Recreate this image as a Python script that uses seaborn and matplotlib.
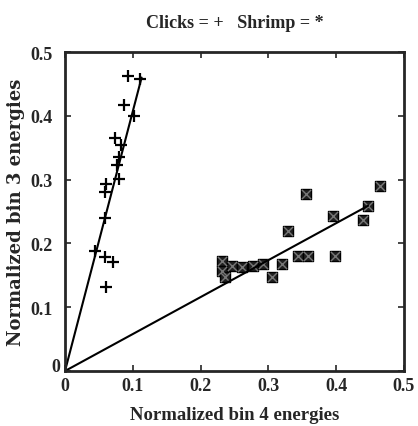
import numpy as np
import pandas as pd
import seaborn as sns
from matplotlib import pyplot as plt
from matplotlib import transforms

# clicks (+)
click_x = [0.093, 0.111, 0.087, 0.102, 0.074, 0.082, 0.080, 0.076, 0.060, 0.079,
           0.059, 0.059, 0.044, 0.059, 0.071, 0.060]
click_y = [0.463, 0.457, 0.417, 0.400, 0.366, 0.354, 0.335, 0.323, 0.293, 0.301,
           0.280, 0.240, 0.188, 0.179, 0.171, 0.131]

# shrimp (*)
shrimp_x = [0.465, 0.356, 0.447, 0.440, 0.395, 0.329, 0.344, 0.358, 0.398, 0.320,
            0.305, 0.231, 0.231, 0.246, 0.261, 0.277, 0.292, 0.236]
shrimp_y = [0.290, 0.277, 0.259, 0.236, 0.243, 0.220, 0.181, 0.181, 0.181, 0.168,
            0.147, 0.173, 0.157, 0.165, 0.163, 0.165, 0.168, 0.147]

# fitted lines through origin
click_line_x = [0.0, 0.113]
click_line_y = [0.0, 0.460]
shrimp_line_x = [0.0, 0.447]
shrimp_line_y = [0.0, 0.259]

ticks = [0, 0.1, 0.2, 0.3, 0.4, 0.5]
tick_labels = ["0", "0.1", "0.2", "0.3", "0.4", "0.5"]

df_click = pd.DataFrame({"x": click_x, "y": click_y})
df_shrimp = pd.DataFrame({"x": shrimp_x, "y": shrimp_y})

sns.set_style("ticks")
plt.rcParams['font.family'] = ['Liberation Serif', 'DejaVu Serif']
plt.rcParams['xtick.direction'] = 'in'
plt.rcParams['ytick.direction'] = 'in'

fig = plt.figure(figsize=(4.18, 4.27), dpi=100)
ax = fig.add_axes([0.1555, 0.1288, 0.811, 0.747])

sns.lineplot(x=click_line_x, y=click_line_y, color="black", lw=1.5, ax=ax)
sns.lineplot(x=shrimp_line_x, y=shrimp_line_y, color="black", lw=1.5, ax=ax)
sns.scatterplot(data=df_click, x="x", y="y", marker="+", s=75, color="black",
                linewidth=1.6, ax=ax)
sns.scatterplot(data=df_shrimp, x="x", y="y", marker="s", s=45, color="#222222",
                edgecolor="black", linewidth=1, ax=ax)
sns.scatterplot(data=df_shrimp, x="x", y="y", marker="x", s=45, color="#777777",
                linewidth=1, ax=ax)

ax.set_xlim(0, 0.5)
ax.set_ylim(0, 0.5)
ax.set_xticks(ticks)
ax.set_xticklabels(tick_labels)
ax.set_yticks(ticks)
ax.set_yticklabels(tick_labels)
ax.tick_params(top=True, right=True, labelsize=13, length=4, width=1.2)
ax.tick_params(axis="y", pad=9)
ax.tick_params(axis="x", pad=4)
for lab in ax.get_xticklabels() + ax.get_yticklabels():
    lab.set_fontweight("bold")
for s in ax.spines.values():
    s.set_linewidth(2)
    s.set_visible(True)

# matlab-style: the y "0" sits up and to the right
y0 = ax.get_yticklabels()[0]
y0.set_transform(y0.get_transform() + transforms.ScaledTranslation(8/100, 7/100, fig.dpi_scale_trans))

ax.set_xlabel("Normalized bin 4 energies", fontsize=13.5, fontweight="bold", labelpad=9)
ax.set_ylabel("Normalized bin 3 energies", fontsize=13, fontweight="bold",
              family=["DejaVu Serif"], labelpad=4)
ax.set_title("Clicks = +   Shrimp = *", fontsize=13, fontweight="bold", pad=18)

plt.savefig("out.png", dpi=100)
